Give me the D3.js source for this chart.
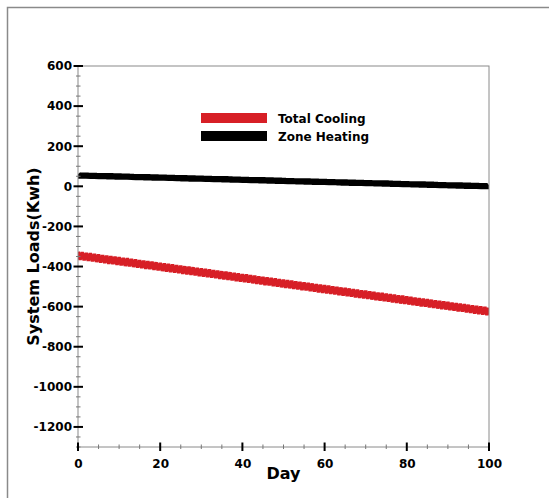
<!DOCTYPE html>
<html><head><meta charset="utf-8">
<script src="https://cdn.jsdelivr.net/npm/d3@7/dist/d3.min.js"></script>
<style>body{margin:0;background:#fff;} text{font-family:"DejaVu Sans",sans-serif;font-weight:bold;}</style>
</head><body><svg id="c" width="549" height="498"></svg>
<script>
const xTicks = [0,20,40,60,80,100];
const yTicks = [600,400,200,0,-200,-400,-600,-800,-1000,-1200];
const seriesNames = ["Total Cooling","Zone Heating"];
const seriesColors = ["#d71f26","#000000"];
// daily peaks (at integer day) and troughs (at half day)
const coolingHigh = [-326,-329,-332,-334,-337,-340,-343,-346,-348,-351,-354,-357,-359,-362,-365,-368,-371,-373,-376,-379,-382,-385,-387,-390,-393,-396,-399,-401,-404,-407,-410,-412,-415,-418,-421,-424,-426,-429,-432,-435,-438,-440,-443,-446,-449,-452,-454,-457,-460,-463,-466,-468,-471,-474,-477,-479,-482,-485,-488,-491,-493,-496,-499,-502,-505,-507,-510,-513,-516,-519,-521,-524,-527,-530,-532,-535,-538,-541,-544,-546,-549,-552,-555,-558,-560,-563,-566,-569,-572,-574,-577,-580,-583,-585,-588,-591,-594,-597,-599,-602,-605];
const coolingLow = [-366,-369,-372,-374,-377,-380,-383,-386,-388,-391,-394,-397,-399,-402,-405,-408,-411,-413,-416,-419,-422,-425,-427,-430,-433,-436,-439,-441,-444,-447,-450,-452,-455,-458,-461,-464,-466,-469,-472,-475,-478,-480,-483,-486,-489,-492,-494,-497,-500,-503,-506,-508,-511,-514,-517,-519,-522,-525,-528,-531,-533,-536,-539,-542,-545,-547,-550,-553,-556,-559,-561,-564,-567,-570,-572,-575,-578,-581,-584,-586,-589,-592,-595,-598,-600,-603,-606,-609,-612,-614,-617,-620,-623,-625,-628,-631,-634,-637,-639,-642];
const heatingHigh = [61,60,60,59,59,58,58,57,57,56,56,55,55,54,53,53,52,52,51,51,50,50,49,49,48,47,47,46,46,45,45,44,44,43,43,42,42,41,40,40,39,39,38,38,37,37,36,36,35,35,34,33,33,32,32,31,31,30,30,29,29,28,28,27,26,26,25,25,24,24,23,23,22,22,21,21,20,19,19,18,18,17,17,16,16,15,15,14,13,13,12,12,11,11,10,10,9,9,8,8,7];
const heatingLow = [47,46,46,45,45,44,44,43,43,42,42,41,41,40,39,39,38,38,37,37,36,36,35,35,34,33,33,32,32,31,31,30,30,29,29,28,28,27,26,26,25,25,24,24,23,23,22,22,21,21,20,19,19,18,18,17,17,16,16,15,15,14,14,13,12,12,11,11,10,10,9,9,8,8,7,7,6,5,5,4,4,3,3,2,2,1,1,0,-1,-1,-2,-2,-3,-3,-4,-4,-5,-5,-6,-6];

const svg = d3.select("#c");
const L=78, R=489, T=66, B=447;
const x = d3.scaleLinear().domain([0,100]).range([L,R]);
const y = d3.scaleLinear().domain([-1300,600]).range([B,T]);

// outer frame
svg.append("rect").attr("x",7.5).attr("y",7.5).attr("width",560).attr("height",520)
  .attr("fill","none").attr("stroke","#8a8a8a").attr("stroke-width",1.5);

function zig(high, low){
  const pts=[];
  high.forEach((h,i)=>{ pts.push([i,h]); if(low[i]!==undefined) pts.push([i+0.5,low[i]]); });
  return pts;
}
svg.append("clipPath").attr("id","clip").append("rect").attr("x",L).attr("y",T).attr("width",R-L).attr("height",B-T);
const line = d3.line().x(d=>x(d[0])).y(d=>y(d[1]));
const g = svg.append("g").attr("clip-path","url(#clip)");
g.append("path").datum(zig(coolingHigh,coolingLow)).attr("d",line)
  .attr("fill","none").attr("stroke",seriesColors[0]).attr("stroke-width",3.5).attr("stroke-linejoin","bevel");
g.append("path").datum(zig(heatingHigh,heatingLow)).attr("d",line)
  .attr("fill","none").attr("stroke",seriesColors[1]).attr("stroke-width",6).attr("stroke-linejoin","bevel");

// plot frame
svg.append("rect").attr("x",L).attr("y",T).attr("width",R-L).attr("height",B-T)
  .attr("fill","none").attr("stroke","#8a8a8a").attr("stroke-width",1);

// minor ticks
const xMinor = d3.range(0,101,5).filter(v=>v%20!==0);
svg.append("g").selectAll("line").data(xMinor).join("line")
  .attr("x1",d=>x(d)).attr("x2",d=>x(d)).attr("y1",B-2.5).attr("y2",B+2)
  .attr("stroke","#777").attr("stroke-width",1);
const yMinor = d3.range(-1300,601,50).filter(v=>v%200!==0);
svg.append("g").selectAll("line").data(yMinor).join("line")
  .attr("y1",d=>y(d)).attr("y2",d=>y(d)).attr("x1",L-2).attr("x2",L+2.5)
  .attr("stroke","#777").attr("stroke-width",1);

// axes
const fmt = d=>String(d);
const xAxis = d3.axisBottom(x).tickValues(xTicks).tickSize(0).tickPadding(12).tickFormat(fmt);
const gx = svg.append("g").attr("transform",`translate(0,${B})`).call(xAxis);
gx.select(".domain").remove();
gx.selectAll("text").attr("font-size",12).attr("font-family","DejaVu Sans").attr("font-weight","bold").attr("fill","#000");
svg.append("g").selectAll("line").data(xTicks).join("line")
  .attr("x1",d=>x(d)).attr("x2",d=>x(d)).attr("y1",B-4.5).attr("y2",B+4)
  .attr("stroke","#000").attr("stroke-width",2);

const yAxis = d3.axisLeft(y).tickValues(yTicks).tickSize(0).tickPadding(6).tickFormat(fmt);
const gy = svg.append("g").attr("transform",`translate(${L},0)`).call(yAxis);
gy.select(".domain").remove();
gy.selectAll("text").attr("font-size",12).attr("font-family","DejaVu Sans").attr("font-weight","bold").attr("fill","#000");
svg.append("g").selectAll("line").data(yTicks).join("line")
  .attr("y1",d=>y(d)).attr("y2",d=>y(d)).attr("x1",L-4.5).attr("x2",L+5)
  .attr("stroke","#000").attr("stroke-width",2);

// titles
svg.append("text").attr("x",(L+R)/2).attr("y",479).attr("text-anchor","middle")
  .attr("font-size",16).text("Day");
svg.append("text").attr("transform",`translate(39,${(T+B)/2}) rotate(-90)`).attr("text-anchor","middle")
  .attr("font-size",16).text("System Loads(Kwh)");

// legend
const leg = svg.append("g");
seriesNames.forEach((n,i)=>{
  const cy = 118 + i*18;
  leg.append("rect").attr("x",201).attr("y",cy-5).attr("width",66).attr("height",10).attr("fill",seriesColors[i]);
  leg.append("text").attr("x",278).attr("y",cy+4.5).attr("font-size",12).text(n);
});
</script></body></html>
